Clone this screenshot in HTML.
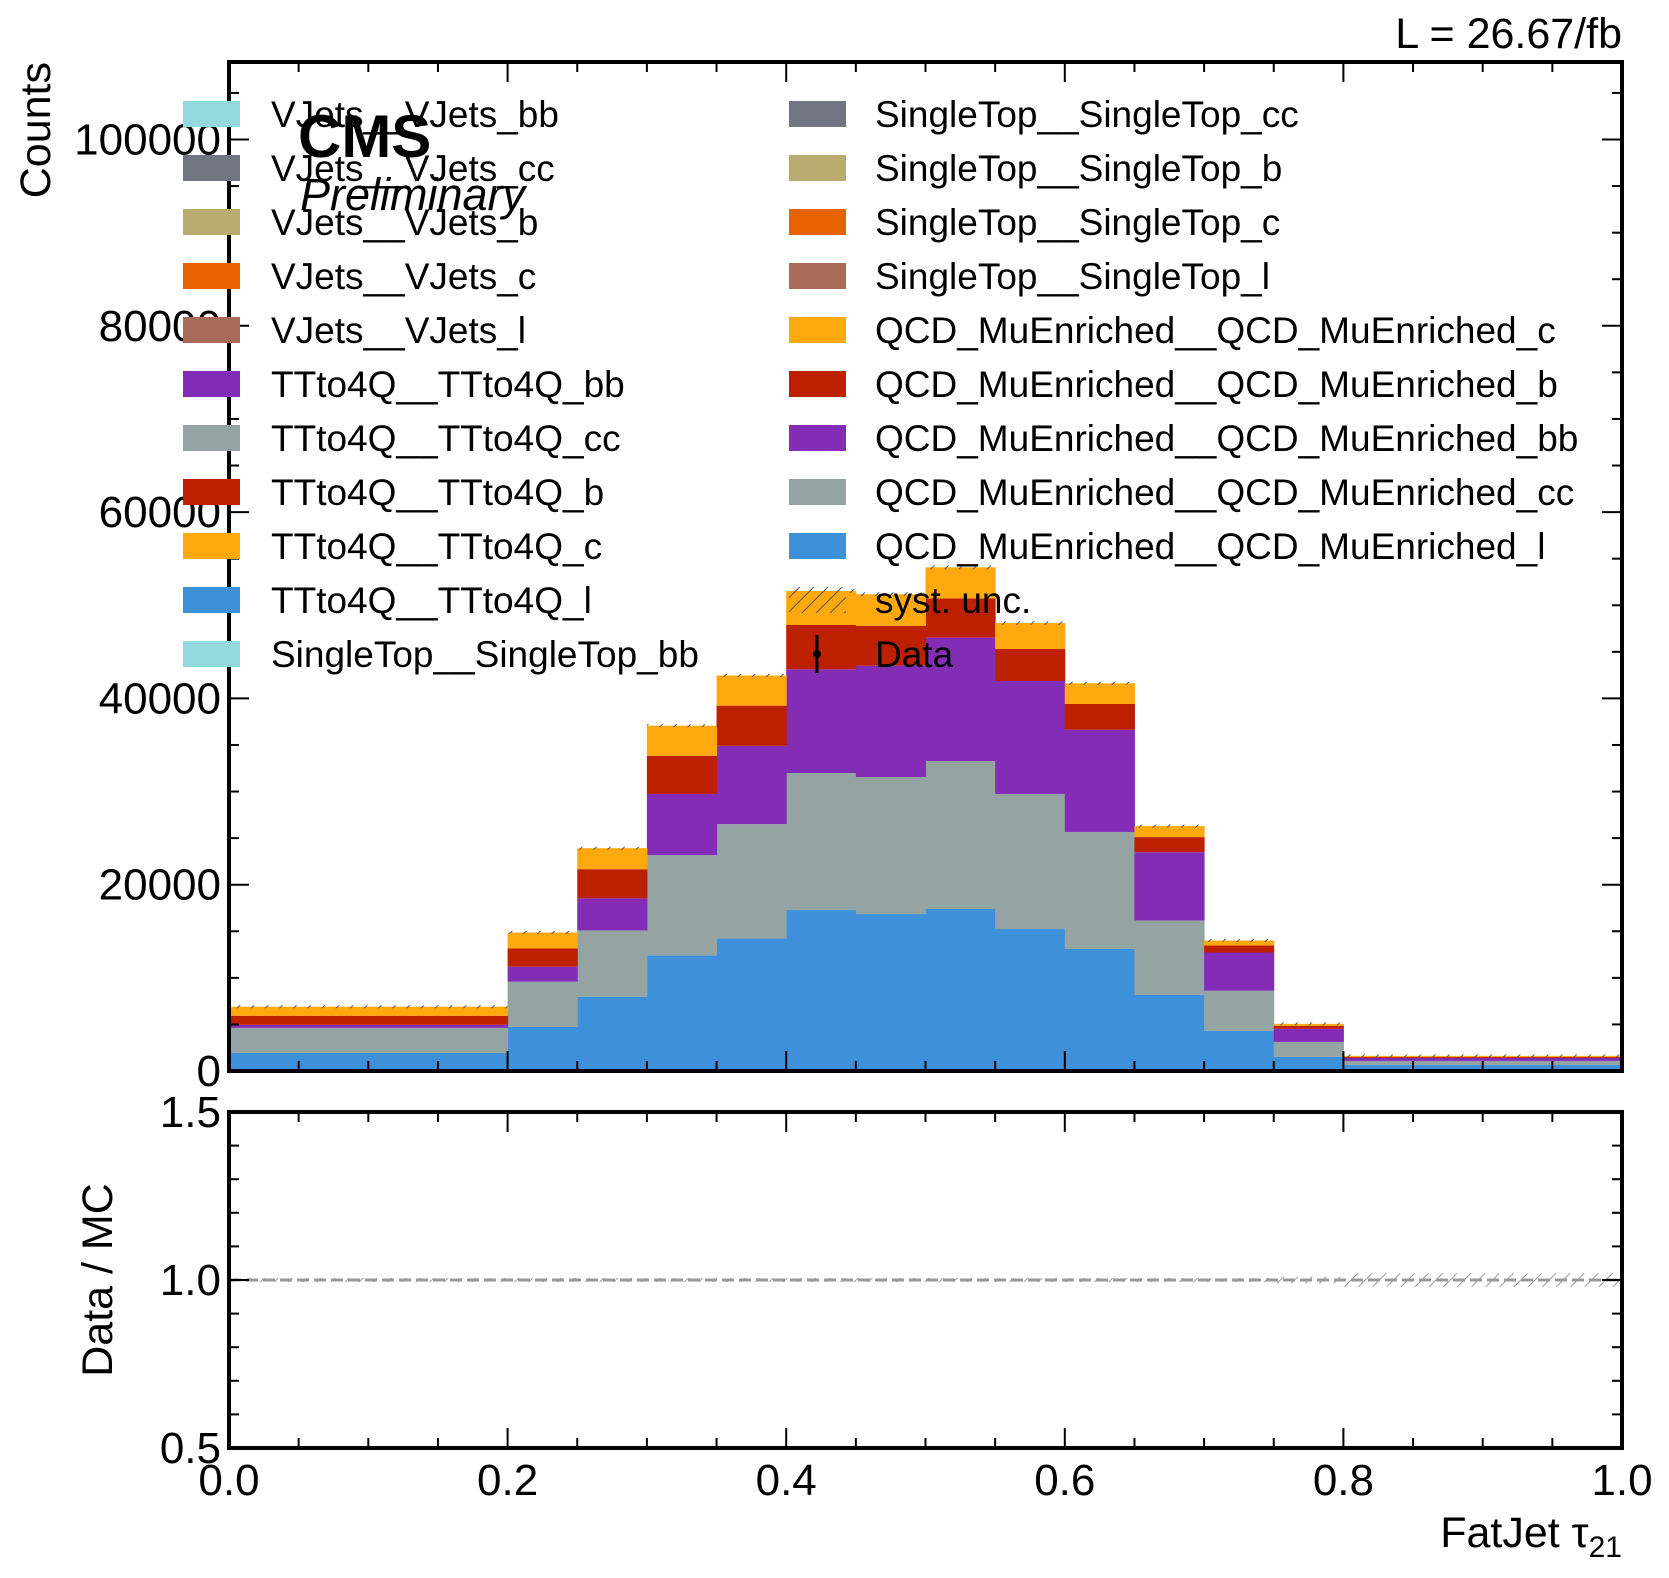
<!DOCTYPE html>
<html><head><meta charset="utf-8"><style>
html,body{margin:0;padding:0;background:#fff}
svg text{font-family:"Liberation Sans",sans-serif}
</style></head><body>
<svg id="c" width="1669" height="1573" viewBox="0 0 1669 1573" xmlns="http://www.w3.org/2000/svg">
<defs>
<pattern id="hatch" patternUnits="userSpaceOnUse" width="10" height="10" patternTransform="rotate(45)">
<line x1="0" y1="0" x2="0" y2="10" stroke="#555" stroke-width="2"/>
</pattern>
</defs>
<g id="main"></g>
</svg>
<script>
const binEdges=[0,0.2,0.25,0.3,0.35,0.4,0.45,0.5,0.55,0.6,0.65,0.7,0.75,0.8,1.0];
const qcdL=[1940,4740,7970,12390,14220,17280,16850,17390,15240,13100,8190,4310,1510,650];
const qcdCC=[2690,4850,7120,10780,12290,14710,14710,15890,14500,12560,7970,4310,1610,430];
const qcdBB=[330,1610,3440,6570,8400,11130,11950,13240,12130,10980,7330,4100,1410,320];
const qcdB=[970,1950,3130,4100,4310,4760,4260,4220,3430,2760,1620,750,320,110];
const qcdC=[970,1720,2260,3230,3240,3650,3410,3330,2790,2220,1180,540,210,110];
const systRel=[0.004,0.004,0.004,0.004,0.004,0.004,0.004,0.004,0.004,0.004,0.005,0.006,0.01,0.02];
const yTicks=[0,20000,40000,60000,80000,100000];
const xTicks=[0,0.2,0.4,0.6,0.8,1.0];
const rTicks=[0.5,1.0,1.5];

const NS='http://www.w3.org/2000/svg';
const g=document.getElementById('main');
const X0=229,X1=1622,Y0=1071,YT=62,YMAX=(1071-62)/186.3*20000;
const RT=1112,RB=1448;
const sx=v=>X0+(X1-X0)*v;
const sy=v=>Y0-(Y0-YT)*v/YMAX;
const ry=v=>RB-(RB-RT)*(v-0.5);
function el(tag,attrs,parent){const e=document.createElementNS(NS,tag);for(const k in attrs)e.setAttribute(k,attrs[k]);(parent||g).appendChild(e);return e;}

const layers=[[qcdL,'#3f90da','qcd-l'],[qcdCC,'#94a4a2','qcd-cc'],[qcdBB,'#832db6','qcd-bb'],[qcdB,'#bd1f01','qcd-b'],[qcdC,'#ffa90e','qcd-c']];
const cum=new Array(qcdL.length).fill(0);
layers.forEach(([arr,col,nm])=>{
  arr.forEach((v,i)=>{
    const lo=cum[i],hi=cum[i]+v;cum[i]=hi;
    const r=el('rect',{x:sx(binEdges[i]),y:sy(hi),width:sx(binEdges[i+1])-sx(binEdges[i])+0.5,height:sy(lo)-sy(hi),fill:col});
    
    
  });
});
cum.forEach((t,i)=>{
  const h=Math.max(sy(t*(1-systRel[i]))-sy(t*(1+systRel[i])),3);
  const r=el('rect',{x:sx(binEdges[i]),y:sy(t)-h/2,width:sx(binEdges[i+1])-sx(binEdges[i]),height:h,fill:'url(#hatch)'});
  
  
});
systRel.forEach((u,i)=>{
  const h=Math.max(ry(1-u)-ry(1+u),4);
  const r=el('rect',{x:sx(binEdges[i]),y:ry(1)-h/2,width:sx(binEdges[i+1])-sx(binEdges[i]),height:h,fill:'url(#hatch)',opacity:0.6});
  
  
});
const rl=el('line',{x1:X0,x2:X1,y1:ry(1),y2:ry(1),stroke:'#999','stroke-width':3,'stroke-dasharray':'12,5'});



[[YT,Y0,'main-frame'],[RT,RB,'ratio-frame']].forEach(([t,b,n])=>{
  const r=el('rect',{x:X0,y:t,width:X1-X0,height:b-t,fill:'none',stroke:'#000','stroke-width':4});
  
  
});
function tick(x1,y1,x2,y2){el('line',{x1,y1,x2,y2,stroke:'#000','stroke-width':2});}
for(let k=0;k<=20;k++){const v=k*0.05,x=sx(v),L=(k%4===0)?20:10;
  tick(x,Y0,x,Y0-L);tick(x,YT,x,YT+L);tick(x,RB,x,RB-L);tick(x,RT,x,RT+L);}
for(let v=0;v<=YMAX;v+=5000){const y=sy(v),L=(v%20000===0)?20:10;tick(X0,y,X0+L,y);tick(X1,y,X1-L,y);}
for(let k=0;k<=10;k++){const y=ry(0.5+k*0.1),L=(k%5===0)?20:10;tick(X0,y,X0+L,y);tick(X1,y,X1-L,y);}
yTicks.forEach(v=>{const t=el('text',{x:X0-8,y:sy(v)+15,'text-anchor':'end','font-size':44});t.textContent=String(v);
  });
rTicks.forEach(v=>{const t=el('text',{x:X0-8,y:ry(v)+15,'text-anchor':'end','font-size':44});t.textContent=v.toFixed(1);
  });
xTicks.forEach(v=>{const t=el('text',{x:sx(v),y:1495,'text-anchor':'middle','font-size':44});t.textContent=v.toFixed(1);
  });

const legL=[['VJets__VJets_bb','#92dadd'],['VJets__VJets_cc','#717581'],['VJets__VJets_b','#b9ac70'],['VJets__VJets_c','#e76300'],['VJets__VJets_l','#a96b59'],['TTto4Q__TTto4Q_bb','#832db6'],['TTto4Q__TTto4Q_cc','#94a4a2'],['TTto4Q__TTto4Q_b','#bd1f01'],['TTto4Q__TTto4Q_c','#ffa90e'],['TTto4Q__TTto4Q_l','#3f90da'],['SingleTop__SingleTop_bb','#92dadd']];
const legR=[['SingleTop__SingleTop_cc','#717581'],['SingleTop__SingleTop_b','#b9ac70'],['SingleTop__SingleTop_c','#e76300'],['SingleTop__SingleTop_l','#a96b59'],['QCD_MuEnriched__QCD_MuEnriched_c','#ffa90e'],['QCD_MuEnriched__QCD_MuEnriched_b','#bd1f01'],['QCD_MuEnriched__QCD_MuEnriched_bb','#832db6'],['QCD_MuEnriched__QCD_MuEnriched_cc','#94a4a2'],['QCD_MuEnriched__QCD_MuEnriched_l','#3f90da'],['syst. unc.','hatch'],['Data','data']];
function legend(list,hx,tx){list.forEach(([lab,col],i)=>{
  const y=101+54*i;
  if(col==='hatch'){const r=el('rect',{x:hx,y:y,width:57,height:26,fill:'url(#hatch)'});}
  else if(col==='data'){el('line',{x1:hx+28,x2:hx+28,y1:y-6,y2:y+32,stroke:'#000','stroke-width':3});el('circle',{cx:hx+28,cy:y+13,r:4,fill:'#000'});}
  else{const r=el('rect',{x:hx,y:y,width:57,height:26,fill:col});}
  const t=el('text',{x:tx,y:y+26,'font-size':37});t.textContent=lab;
  
});}
legend(legL,183,271);legend(legR,789,875);
</script>
<script>
const s=document.getElementById('c');
function txt(attrs,content,name){const t=document.createElementNS('http://www.w3.org/2000/svg','text');for(const k in attrs)t.setAttribute(k,attrs[k]);t.textContent=content;


s.appendChild(t);return t;}
txt({x:298,y:157,'font-size':60,'font-weight':'bold'},'CMS','cms-label');
txt({x:300,y:210,'font-size':45,'font-style':'italic'},'Preliminary','preliminary-label');
txt({x:1622,y:48,'font-size':43,'text-anchor':'end'},'L = 26.67/fb','luminosity-label');
txt({x:0,y:0,'font-size':43,'text-anchor':'end',transform:'translate(50,62) rotate(-90)'},'Counts','y-axis-title');
txt({x:0,y:0,'font-size':43,'text-anchor':'middle',transform:'translate(112,1280) rotate(-90)'},'Data / MC','ratio-axis-title');
const xl=txt({x:1622,y:1547,'font-size':43,'text-anchor':'end'},'','x-axis-title');
xl.innerHTML='FatJet τ<tspan font-size="30" dy="10">21</tspan>';
</script>
</body></html>
